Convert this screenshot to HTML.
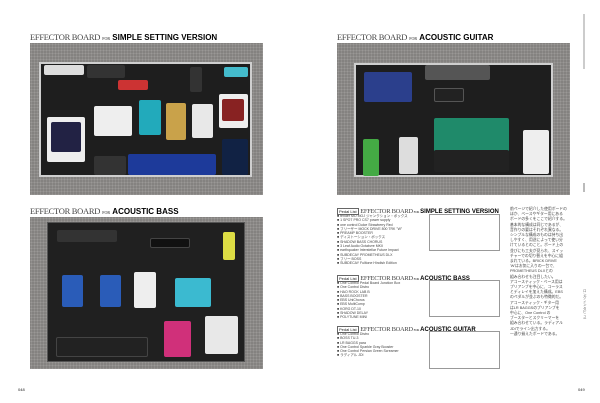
<!DOCTYPE html>
<html><head><meta charset="utf-8"><style>
*{margin:0;padding:0;box-sizing:border-box}
body{width:600px;height:403px;background:#fff;position:relative;overflow:hidden;font-family:"Liberation Sans","Noto Sans CJK JP",sans-serif}
.a{position:absolute}
.t{position:absolute;white-space:nowrap;font-size:8px;line-height:9px;color:#222}
.t .s{font-family:"Liberation Serif",serif;font-size:8.5px;letter-spacing:-.3px;color:#444}
.t .f{font-family:"Liberation Serif",serif;font-size:4px}
.t b{font-weight:bold;font-size:8px;color:#000}
.photo{position:absolute;background:#848280;background-image:radial-gradient(#9a9896 1px,transparent 1px);background-size:3px 3px}
.board{position:absolute;background:#1e1e1e;border:2px solid #cfcfcf}
.p{position:absolute;border-radius:2px}
.small{position:absolute;font-size:3.5px;line-height:4.3px;color:#444;white-space:nowrap}
</style></head><body>

<!-- LEFT PAGE -->
<div class="t" style="left:30px;top:33px"><span class="s">EFFECTOR BOARD</span> <span class="f">FOR</span> <b>SIMPLE SETTING VERSION</b></div>
<div class="photo" style="left:30px;top:43px;width:233px;height:152px"></div>
<div class="board" style="left:39px;top:62px;width:213px;height:115px"></div>
<div class="p" style="left:44px;top:65px;width:40px;height:10px;background:#ddd"></div>
<div class="p" style="left:87px;top:65px;width:38px;height:13px;background:#333"></div>
<div class="p" style="left:118px;top:80px;width:30px;height:10px;background:#c33"></div>
<div class="p" style="left:190px;top:67px;width:12px;height:25px;background:#333"></div>
<div class="p" style="left:224px;top:67px;width:24px;height:10px;background:#4bc;"></div>
<div class="p" style="left:47px;top:117px;width:38px;height:45px;background:#eee"></div>
<div class="p" style="left:51px;top:122px;width:30px;height:30px;background:#224"></div>
<div class="p" style="left:94px;top:106px;width:38px;height:30px;background:#eee"></div>
<div class="p" style="left:139px;top:100px;width:22px;height:35px;background:#2ab"></div>
<div class="p" style="left:166px;top:103px;width:20px;height:37px;background:#c9a24a"></div>
<div class="p" style="left:192px;top:104px;width:21px;height:34px;background:#e8e8e8"></div>
<div class="p" style="left:219px;top:94px;width:29px;height:34px;background:#eee"></div>
<div class="p" style="left:222px;top:99px;width:22px;height:22px;background:#822"></div>
<div class="p" style="left:94px;top:156px;width:32px;height:19px;background:#333"></div>
<div class="p" style="left:128px;top:154px;width:88px;height:21px;background:#1d3a9a"></div>
<div class="p" style="left:222px;top:139px;width:26px;height:36px;background:#112244"></div>

<div class="t" style="left:30px;top:207px"><span class="s">EFFECTOR BOARD</span> <span class="f">FOR</span> <b>ACOUSTIC BASS</b></div>
<div class="photo" style="left:30px;top:217px;width:233px;height:152px"></div>
<div class="board" style="left:47px;top:222px;width:198px;height:140px;border:1px solid #555;background:#202020"></div>
<div class="p" style="left:57px;top:230px;width:60px;height:12px;background:#333"></div>
<div class="p" style="left:150px;top:238px;width:40px;height:10px;background:#111;border:1px solid #444"></div>
<div class="p" style="left:223px;top:232px;width:12px;height:28px;background:#dd4"></div>
<div class="p" style="left:62px;top:275px;width:21px;height:32px;background:#2a5cb8"></div>
<div class="p" style="left:100px;top:275px;width:21px;height:32px;background:#2a5cb8"></div>
<div class="p" style="left:134px;top:272px;width:22px;height:36px;background:#eee"></div>
<div class="p" style="left:175px;top:278px;width:36px;height:29px;background:#3bbad0"></div>
<div class="p" style="left:164px;top:321px;width:27px;height:36px;background:#d0307a"></div>
<div class="p" style="left:205px;top:316px;width:33px;height:38px;background:#e8e8e8"></div>
<div class="p" style="left:56px;top:337px;width:92px;height:20px;background:#222;border:1px solid #444"></div>
<div class="t" style="left:18px;top:385px;font-size:4px">048</div>

<!-- RIGHT PAGE -->
<div class="t" style="left:337px;top:33px"><span class="s">EFFECTOR BOARD</span> <span class="f">FOR</span> <b>ACOUSTIC GUITAR</b></div>
<div class="photo" style="left:337px;top:43px;width:233px;height:152px"></div>
<div class="board" style="left:354px;top:63px;width:199px;height:114px"></div>
<div class="p" style="left:364px;top:72px;width:48px;height:30px;background:#2b3f8c"></div>
<div class="p" style="left:425px;top:65px;width:65px;height:15px;background:#555"></div>
<div class="p" style="left:434px;top:88px;width:30px;height:14px;background:#222;border:1px solid #555"></div>
<div class="p" style="left:434px;top:118px;width:75px;height:34px;background:#1f8a6a"></div>
<div class="p" style="left:434px;top:150px;width:75px;height:22px;background:#222"></div>
<div class="p" style="left:363px;top:139px;width:16px;height:37px;background:#4a4"></div>
<div class="p" style="left:399px;top:137px;width:19px;height:37px;background:#ddd"></div>
<div class="p" style="left:523px;top:130px;width:26px;height:44px;background:#eee"></div>
<div class="a" style="left:583px;top:14px;width:2px;height:55px;background:#ccc"></div>
<div class="a" style="left:583px;top:183px;width:2px;height:9px;background:#bbb"></div>

<!-- lists -->
<div class="t" style="left:337px;top:207px;font-size:6px"><span style="border:1px solid #666;font-size:4px;padding:0 1px">Pedal List</span> <span class="s" style="font-size:6.5px">EFFECTOR BOARD</span><span class="f" style="font-size:3px"> FOR </span><b style="font-size:6px">SIMPLE SETTING VERSION</b></div>
<div class="a" style="left:429px;top:214px;width:71px;height:37px;border:1px solid #999"></div>
<div class="small" style="left:337px;top:214px">■ fender MO MOJ ジャンクション・ボックス<br>■ 1 SPOT PRO CS7 power supply<br>■ one control Dulce Strawberry Red<br>■ フリーザー MOCK DRIVE 800 TRK "W"<br>■ PREAMP BOOSTER<br>■ ディストーション・ボックス<br>■ SHADOW BASS CHORUS<br>■ 3 Leaf Audio Octabvre MKII<br>■ earthquaker Interstellar Future Impact<br>■ SUBDECAY PROMETHEUS DLX<br>■ フリー BOSS<br>■ SUBDECAY Fulltone Hindish Edition</div>

<div class="t" style="left:337px;top:274px;font-size:6px"><span style="border:1px solid #666;font-size:4px;padding:0 1px">Pedal List</span> <span class="s" style="font-size:6.5px">EFFECTOR BOARD</span><span class="f" style="font-size:3px"> FOR </span><b style="font-size:6px">ACOUSTIC BASS</b></div>
<div class="a" style="left:429px;top:280px;width:71px;height:37px;border:1px solid #999"></div>
<div class="small" style="left:337px;top:281px">■ One Control Pedal Board Junction Box<br>■ One Control Distro<br>■ HAO ROCK LAB B<br>■ BASS BOOSTER<br>■ EBS UniChorus<br>■ EBS MultiComp<br>■ KORG DT-10<br>■ SHADOW DELAY<br>■ POLYTUNE MINI</div>

<div class="t" style="left:337px;top:325px;font-size:6px"><span style="border:1px solid #666;font-size:4px;padding:0 1px">Pedal List</span> <span class="s" style="font-size:6.5px">EFFECTOR BOARD</span><span class="f" style="font-size:3px"> FOR </span><b style="font-size:6px">ACOUSTIC GUITAR</b></div>
<div class="a" style="left:429px;top:331px;width:71px;height:38px;border:1px solid #999"></div>
<div class="small" style="left:337px;top:332px">■ One Control Distro<br>■ BOSS TU-3<br>■ LR BAGGS para<br>■ One Control Sparkle Gray Booster<br>■ One Control Persian Green Screamer<br>■ ラディアル JDI</div>

<div class="small" style="left:510px;top:207px;font-size:3.8px;line-height:5.2px;color:#444">前ページで紹介した使用ボードの<br>ほか、ベースやギター用にある<br>ボードの多くをここで紹介する。<br>基本的な構成は同じであるが、<br>音作りの要はそれぞれ異なる。<br>シンプルな構成のものは持ち出<br>しやすく、用途によって使い分<br>けているとのこと。ボード上の<br>並びにも工夫が見られ、スイッ<br>チャーでの切り替えを中心に組<br>まれている。BRICK DRIVE<br>'W'はお気に入りの一台で、<br>PROMETHEUS DLXとの<br>組み合わせも注目したい。<br>アコースティック・ベース用は<br>プリアンプを中心に、コーラス<br>とディレイを加えた構成。EBS<br>のペダルが並ぶのも特徴的だ。<br>アコースティック・ギター用<br>はLR BAGGSのプリアンプを<br>中心に、One Control の<br>ブースターとスクリーマーを<br>組み合わせている。ラディアル<br>JDIでライン出力する。<br>一通り揃えたボードである。</div>
<div class="small" style="left:583px;top:290px;width:4px;font-size:3.5px;line-height:3.5px;white-space:normal;color:#666">ロングインタビュー</div>
<div class="t" style="left:578px;top:385px;font-size:4px">049</div>
</body></html>
